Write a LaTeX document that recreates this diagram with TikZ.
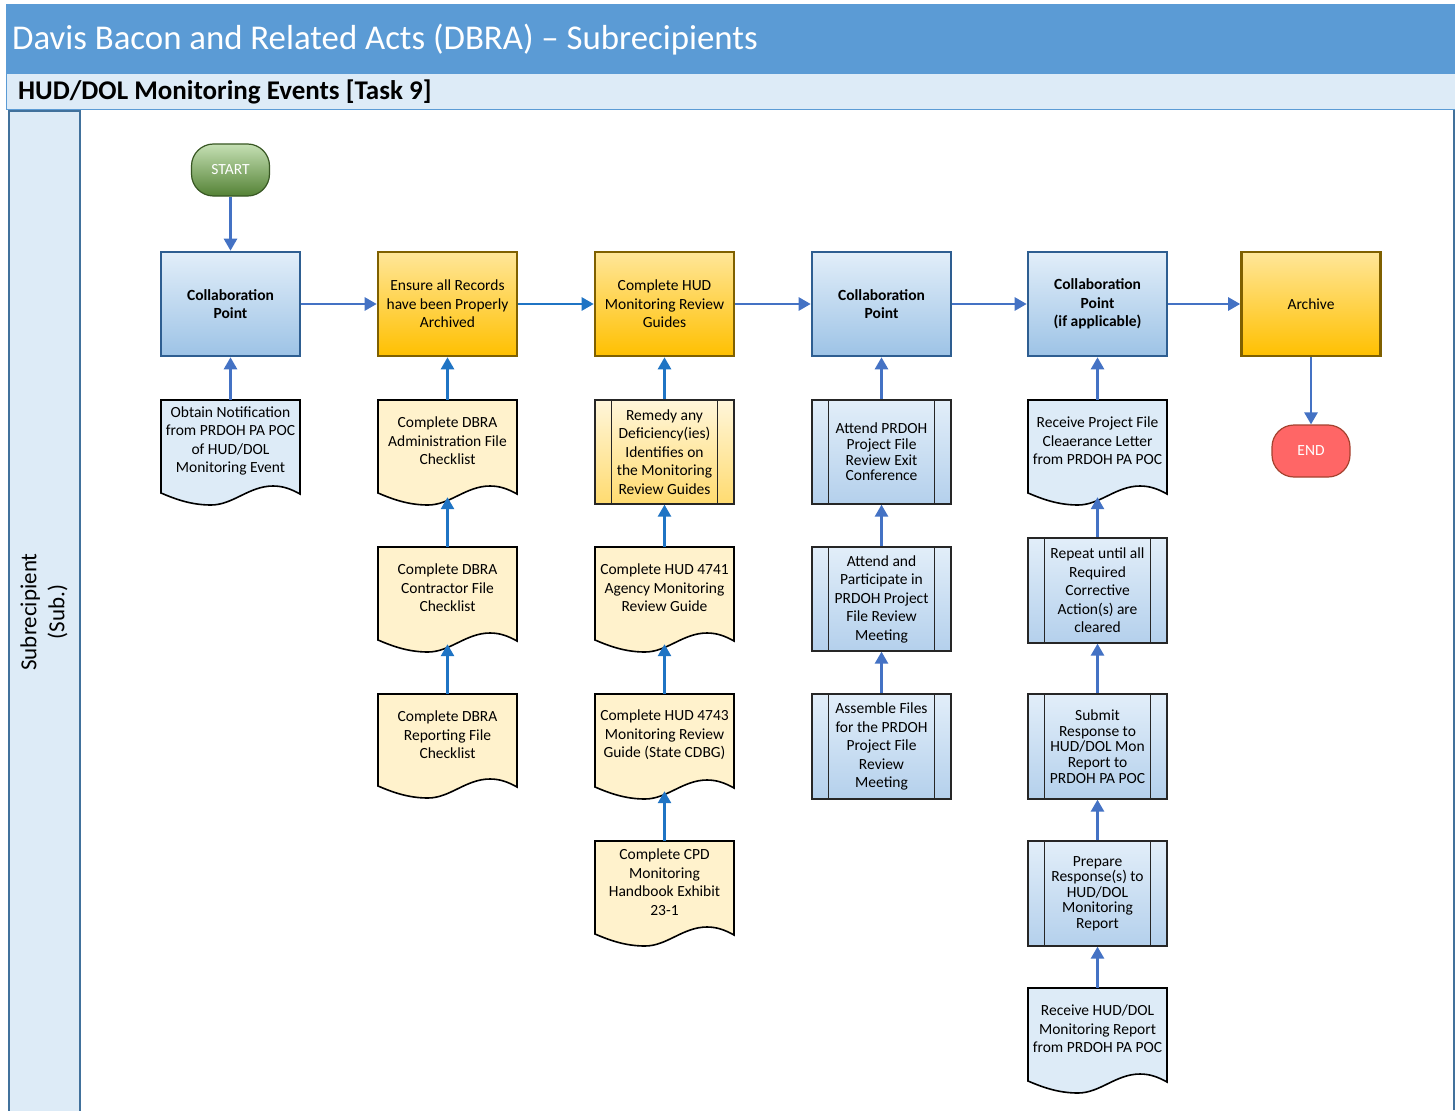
\documentclass[tikz,border=0pt]{standalone}
\usepackage{fontspec}
\setmainfont{Carlito}
\usetikzlibrary{arrows.meta,calc}

\definecolor{titleblue}{HTML}{5B9BD5}
\definecolor{paleblue}{HTML}{DDEBF7}
\definecolor{laneline}{HTML}{41719C}
\definecolor{collabline}{HTML}{2E5E91}
\definecolor{cbtop}{HTML}{E2EEF9}
\definecolor{cbbot}{HTML}{9DC3E6}
\definecolor{ytop}{HTML}{FFE699}
\definecolor{ybot}{HTML}{FFC000}
\definecolor{yline}{HTML}{7F6000}
\definecolor{docyellow}{HTML}{FFF2CC}
\definecolor{docblue}{HTML}{DDEBF7}
\definecolor{pytop}{HTML}{FFF6DA}
\definecolor{pybot}{HTML}{FFDB70}
\definecolor{pbtop}{HTML}{E2EEF9}
\definecolor{pbbot}{HTML}{B4D0EC}
\definecolor{procline}{HTML}{262626}
\definecolor{arrblue}{HTML}{4472C4}
\definecolor{arrazure}{HTML}{1F74C4}
\definecolor{sttop}{HTML}{C5E0B4}
\definecolor{stbot}{HTML}{548235}
\definecolor{stline}{HTML}{385723}
\definecolor{endfill}{HTML}{FF6666}
\definecolor{endline}{HTML}{A5422F}

\tikzset{
  x=1pt, y=-1pt,
  boxfont/.style={font=\fontsize{15.5}{18.5}\selectfont},
  tightfont/.style={font=\fontsize{15.5}{15.6}\selectfont},
  collab/.style={draw=collabline, line width=2.6pt, top color=cbtop, bottom color=cbbot,
    minimum width=139pt, minimum height=104pt, align=center, inner sep=0pt,
    font=\bfseries\fontsize{15.5}{18.5}\selectfont},
  task/.style={draw=yline, line width=2.6pt, top color=ytop, bottom color=ybot,
    minimum width=139pt, minimum height=104pt, align=center, inner sep=0pt, boxfont},
  proc/.style={draw=procline, line width=1.3pt, minimum width=139pt, align=center,
    inner sep=0pt, boxfont},
  docarea/.style={minimum width=139pt, inner sep=0pt, draw=none},
  arr/.style={line width=2.6pt, arrblue, -{Triangle[width=13pt,length=12pt]}},
  arrz/.style={arr, arrazure},
}

% Process box with two inner side bars
% #1 extra style, #2 name, #3 left x, #4 top y, #5 bottom y, #6 top colour, #7 bottom colour, #8 text
\newcommand\ProcNode[8][]{%
  \node[proc, top color=#6, bottom color=#7, minimum height={#5-#4}, #1] (#2)
    at ({#3+69.5},{(#4+#5)/2}) {#8};
  \draw[procline, line width=1.3pt]
    ([xshift=17pt]#2.north west) -- ([xshift=17pt]#2.south west)
    ([xshift=-17pt]#2.north east) -- ([xshift=-17pt]#2.south east);
}

% Document shape with wavy bottom
% #1 name, #2 left x, #3 top y, #4 lowest y of the wave, #5 fill, #6 text
\newcommand\DocNode[6]{%
  \filldraw[draw=black, line width=1.6pt, fill=#5]
    (#2,#3) -- ({#2+139},#3) -- ({#2+139},{#4-11})
    .. controls ({#2+130},{#4-16}) and ({#2+122},{#4-19}) .. ({#2+112},{#4-19})
    .. controls ({#2+88},{#4-19}) and ({#2+72},{#4}) .. ({#2+50},{#4})
    .. controls ({#2+30},{#4}) and ({#2+14},{#4-6}) .. (#2,{#4-12}) -- cycle;
  \node[docarea, minimum height={#4-8-#3}] (#1) at ({#2+69.5},{(#3+#4-8)/2}) {};
  \node[boxfont, align=center, inner sep=0pt] (#1-t) at ({#2+69.5},{#3+41}) {#6};
}

\begin{document}
\begin{tikzpicture}
\useasboundingbox (0,0) rectangle (1455,1110);
\fill[white] (0,0) rectangle (1455,1110);

% header bars
\fill[titleblue] (6,4) rectangle (1455,74);
\node[anchor=west, text=white, inner sep=0pt, font=\fontsize{34.8}{40}\selectfont] (title) at (12,40)
  {Davis Bacon and Related Acts (DBRA) -- Subrecipients};
\filldraw[fill=paleblue, draw=titleblue, line width=1pt] (6,74) rectangle (1455,110);
\node[anchor=west, inner sep=0pt, font=\bfseries\fontsize{27}{32}\selectfont] (subtitle) at (18,92)
  {HUD/DOL Monitoring Events [Task 9]};

% swimlane
\draw[laneline, line width=1.2pt] (1454,110) -- (1454,1110);
\node[draw=laneline, line width=1.6pt, fill=paleblue, minimum width=71pt, minimum height=1002pt,
  anchor=north west, inner sep=0pt] (lane) at (8,110) {};
\node[rotate=90, align=center, font=\fontsize{23}{28}\selectfont] (lanelabel) at (44,612)
  {Subrecipient\\(Sub.)};

% terminals
\node[draw=stline, line width=1.2pt, top color=sttop, bottom color=stbot, rounded corners=22pt,
  minimum width=78pt, minimum height=52pt, text=white, font=\fontsize{15.5}{17}\selectfont] (start)
  at (230.5,170) {START};
\node[draw=endline, line width=1.2pt, fill=endfill, rounded corners=22pt,
  minimum width=78pt, minimum height=52pt, text=white, font=\fontsize{15.5}{17}\selectfont] (end)
  at (1311,451) {END};

% main row
\node[collab] (c1) at (230.5,304) {Collaboration\\Point};
\node[task] (ensure) at (447.5,304) {Ensure all Records\\have been Properly\\Archived};
\node[task] (hud) at (664.5,304) {Complete HUD\\Monitoring Review\\Guides};
\node[collab] (c4) at (881.5,304) {Collaboration\\Point};
\node[collab] (c5) at (1097.5,304) {Collaboration\\Point\\(if applicable)};
\node[task] (archive) at (1311,304) {Archive};

% column 1
\DocNode{obtain}{161}{400}{505}{docblue}{Obtain Notification\\from PRDOH PA POC\\of HUD/DOL\\Monitoring Event}

% column 2
\DocNode{adm}{378}{400}{505}{docyellow}{Complete DBRA\\Administration File\\Checklist}
\DocNode{contr}{378}{547}{652}{docyellow}{Complete DBRA\\Contractor File\\Checklist}
\DocNode{rep}{378}{694}{798}{docyellow}{Complete DBRA\\Reporting File\\Checklist}

% column 3
\ProcNode{remedy}{595}{400}{504}{pytop}{pybot}{Remedy any\\Deficiency(ies)\\Identifies on\\the Monitoring\\Review Guides}
\DocNode{hfour}{595}{547}{652}{docyellow}{Complete HUD 4741\\Agency Monitoring\\Review Guide}
\DocNode{hthree}{595}{694}{799}{docyellow}{Complete HUD 4743\\Monitoring Review\\Guide (State CDBG)}
\DocNode{cpd}{595}{841}{946}{docyellow}{Complete CPD\\Monitoring\\Handbook Exhibit\\23-1}

% column 4
\ProcNode[tightfont]{attend}{812}{400}{504}{pbtop}{pbbot}{Attend PRDOH\\Project File\\Review Exit\\Conference}
\ProcNode{partic}{812}{547}{651}{pbtop}{pbbot}{Attend and\\Participate in\\PRDOH Project\\File Review\\Meeting}
\ProcNode{assemble}{812}{694}{799}{pbtop}{pbbot}{Assemble Files\\for the PRDOH\\Project File\\Review\\Meeting}

% column 5
\DocNode{recv}{1028}{400}{505}{docblue}{Receive Project File\\Cleaerance Letter\\from PRDOH PA POC}
\ProcNode{repeat}{1028}{538}{643}{pbtop}{pbbot}{Repeat until all\\Required\\Corrective\\Action(s) are\\cleared}
\ProcNode[tightfont]{submit}{1028}{694}{799}{pbtop}{pbbot}{Submit\\Response to\\HUD/DOL Mon\\Report to\\PRDOH PA POC}
\ProcNode[tightfont]{prepare}{1028}{841}{946}{pbtop}{pbbot}{Prepare\\Response(s) to\\HUD/DOL\\Monitoring\\Report}
\DocNode{recvhud}{1028}{988}{1093}{docblue}{Receive HUD/DOL\\Monitoring Report\\from PRDOH PA POC}

% connectors
\draw[arr] (start) -- (c1);
\draw[arr] (c1) -- (ensure);
\draw[arrz] (ensure) -- (hud);
\draw[arr] (hud) -- (c4);
\draw[arr] (c4) -- (c5);
\draw[arr] (c5) -- (archive);
\draw[arr] (archive) -- (end);

\draw[arr] (obtain) -- (c1);

\draw[arrz] (adm) -- (ensure);
\draw[arrz] (contr) -- (adm);
\draw[arrz] (rep) -- (contr);

\draw[arrz] (remedy) -- (hud);
\draw[arrz] (hfour) -- (remedy);
\draw[arrz] (hthree) -- (hfour);
\draw[arrz] (cpd) -- (hthree);

\draw[arr] (attend) -- (c4);
\draw[arr] (partic) -- (attend);
\draw[arr] (assemble) -- (partic);

\draw[arr] (recv) -- (c5);
\draw[arr] (repeat) -- (recv);
\draw[arr] (submit) -- (repeat);
\draw[arr] (prepare) -- (submit);
\draw[arr] (recvhud) -- (prepare);
\end{tikzpicture}
\end{document}
